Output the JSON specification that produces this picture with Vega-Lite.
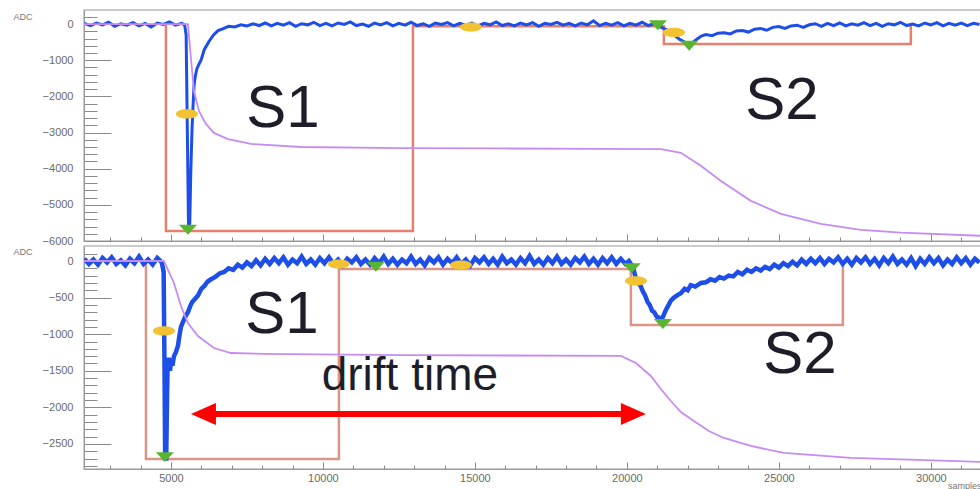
{
"$schema":"https://vega.github.io/schema/vega-lite/v6.json",
"padding":{"top":9,"left":0,"right":0,"bottom":0},
"bounds":"flush",
"spacing":5,
"config":{"view":{"stroke":"#bbbbbb","strokeWidth":1.5},"font":"Liberation Sans","axis":{"grid":false,"labelFont":"Liberation Sans","labelFontSize":11,"labelColor":"#6a6a6a","domainColor":"#9a9a9a","tickColor":"#8a8a8a","labelFlush":false,"labelOverlap":false,"titleFont":"Liberation Sans","titleFontWeight":"normal","titleColor":"#777777"}},
"datasets":{
"tw":[{"x":2150,"y":20},{"x":2350,"y":-40},{"x":2550,"y":30},{"x":2750,"y":-20},{"x":2950,"y":50},{"x":3150,"y":-60},{"x":3350,"y":10},{"x":3550,"y":-30},{"x":3750,"y":40},{"x":3950,"y":-50},{"x":4150,"y":20},{"x":4350,"y":-80},{"x":4550,"y":30},{"x":4750,"y":-10},{"x":4950,"y":60},{"x":5150,"y":-30},{"x":5350,"y":20},{"x":5450,"y":-20},{"x":5500,"y":-300},{"x":5540,"y":-3000},{"x":5580,"y":-5700},{"x":5620,"y":-5500},{"x":5650,"y":-4200},{"x":5690,"y":-3000},{"x":5720,"y":-2400},{"x":5760,"y":-1700},{"x":5800,"y":-1450},{"x":5850,"y":-1250},{"x":5900,"y":-1150},{"x":5990,"y":-1000},{"x":6100,"y":-700},{"x":6250,"y":-480},{"x":6400,"y":-300},{"x":6550,"y":-180},{"x":6700,"y":-130},{"x":6900,"y":-60},{"x":7100,"y":-80},{"x":7300,"y":-20},{"x":7500,"y":-50},{"x":7700,"y":10},{"x":7900,"y":-40},{"x":8100,"y":30},{"x":8300,"y":-50},{"x":8500,"y":20},{"x":8700,"y":-30},{"x":8900,"y":40},{"x":9100,"y":-60},{"x":9300,"y":10},{"x":9500,"y":-20},{"x":9700,"y":50},{"x":9900,"y":-40},{"x":10100,"y":20},{"x":10300,"y":-50},{"x":10500,"y":30},{"x":10700,"y":-10},{"x":10900,"y":60},{"x":11100,"y":-40},{"x":11300,"y":0},{"x":11500,"y":-60},{"x":11700,"y":30},{"x":11900,"y":-20},{"x":12100,"y":40},{"x":12300,"y":-50},{"x":12500,"y":20},{"x":12700,"y":-30},{"x":12900,"y":50},{"x":13100,"y":-40},{"x":13300,"y":10},{"x":13500,"y":-60},{"x":13700,"y":30},{"x":13900,"y":-10},{"x":14100,"y":40},{"x":14300,"y":-50},{"x":14500,"y":20},{"x":14700,"y":-30},{"x":14900,"y":30},{"x":15100,"y":-50},{"x":15300,"y":20},{"x":15500,"y":-20},{"x":15700,"y":60},{"x":15900,"y":-40},{"x":16100,"y":10},{"x":16300,"y":-50},{"x":16500,"y":30},{"x":16700,"y":-20},{"x":16900,"y":40},{"x":17100,"y":-60},{"x":17300,"y":20},{"x":17500,"y":-10},{"x":17700,"y":50},{"x":17900,"y":-30},{"x":18100,"y":20},{"x":18300,"y":-50},{"x":18500,"y":30},{"x":18700,"y":-20},{"x":18900,"y":90},{"x":19100,"y":-40},{"x":19300,"y":20},{"x":19500,"y":-30},{"x":19700,"y":40},{"x":19900,"y":-50},{"x":20100,"y":20},{"x":20300,"y":-30},{"x":20500,"y":50},{"x":20700,"y":-40},{"x":20900,"y":10},{"x":21000,"y":-40},{"x":21150,"y":-100},{"x":21300,"y":-150},{"x":21450,"y":-230},{"x":21600,"y":-330},{"x":21750,"y":-430},{"x":21900,"y":-500},{"x":22050,"y":-550},{"x":22150,"y":-520},{"x":22300,"y":-420},{"x":22450,"y":-330},{"x":22600,"y":-290},{"x":22800,"y":-320},{"x":23000,"y":-250},{"x":23200,"y":-240},{"x":23400,"y":-270},{"x":23600,"y":-190},{"x":23800,"y":-180},{"x":24000,"y":-220},{"x":24200,"y":-140},{"x":24400,"y":-120},{"x":24600,"y":-170},{"x":24800,"y":-90},{"x":25000,"y":-70},{"x":25200,"y":-120},{"x":25400,"y":-50},{"x":25600,"y":-30},{"x":25800,"y":-90},{"x":26000,"y":-20},{"x":26200,"y":10},{"x":26400,"y":-60},{"x":26600,"y":20},{"x":26800,"y":-40},{"x":27000,"y":30},{"x":27200,"y":-50},{"x":27400,"y":10},{"x":27600,"y":-30},{"x":27800,"y":40},{"x":28000,"y":-40},{"x":28200,"y":20},{"x":28400,"y":-60},{"x":28600,"y":10},{"x":28800,"y":-20},{"x":29000,"y":50},{"x":29200,"y":-40},{"x":29400,"y":0},{"x":29600,"y":-50},{"x":29800,"y":30},{"x":30000,"y":-20},{"x":30200,"y":40},{"x":30400,"y":-50},{"x":30600,"y":20},{"x":30800,"y":-30},{"x":31000,"y":30},{"x":31200,"y":-40},{"x":31400,"y":20},{"x":31600,"y":-10}],
"tp":[{"x":2140,"y":0},{"x":5559,"y":0},{"x":5658,"y":-940},{"x":5757,"y":-1850},{"x":5921,"y":-2400},{"x":6151,"y":-2760},{"x":6414,"y":-3010},{"x":6875,"y":-3180},{"x":7632,"y":-3315},{"x":9276,"y":-3400},{"x":12566,"y":-3430},{"x":15855,"y":-3440},{"x":19145,"y":-3450},{"x":21118,"y":-3460},{"x":21776,"y":-3560},{"x":22434,"y":-3920},{"x":23092,"y":-4340},{"x":24079,"y":-4890},{"x":25066,"y":-5250},{"x":26382,"y":-5525},{"x":27697,"y":-5690},{"x":29013,"y":-5770},{"x":31645,"y":-5856}],
"tr":[{"i":1,"x":4836,"y":0},{"i":2,"x":4836,"y":-5720},{"i":3,"x":12961,"y":-5720},{"i":4,"x":12961,"y":-60},{"i":5,"x":21217,"y":-60},{"i":6,"x":21217,"y":-550},{"i":7,"x":29342,"y":-550},{"i":8,"x":29342,"y":0}],
"ty":[{"x":5526,"y":-2486},{"x":14868,"y":-83},{"x":21550,"y":-230}],
"tg":[{"x":5559,"y":-5690},{"x":21020,"y":-30},{"x":22050,"y":-600}],
"tt":[{"x":8684,"y":-2348,"t":"S1"},{"x":25099,"y":-2127,"t":"S2"}],
"bw":[{"x":2150,"y":30},{"x":2300,"y":-40},{"x":2450,"y":20},{"x":2600,"y":-50},{"x":2750,"y":40},{"x":2900,"y":-20},{"x":3050,"y":50},{"x":3200,"y":-40},{"x":3350,"y":10},{"x":3500,"y":-60},{"x":3650,"y":30},{"x":3800,"y":-30},{"x":3950,"y":60},{"x":4100,"y":-40},{"x":4250,"y":20},{"x":4400,"y":-50},{"x":4550,"y":40},{"x":4700,"y":-20},{"x":4760,"y":-150},{"x":4790,"y":-1500},{"x":4810,"y":-2700},{"x":4845,"y":-2700},{"x":4870,"y":-1900},{"x":4890,"y":-1450},{"x":4930,"y":-1320},{"x":4970,"y":-1500},{"x":5010,"y":-1350},{"x":5050,"y":-1430},{"x":5100,"y":-1300},{"x":5160,"y":-1250},{"x":5230,"y":-1160},{"x":5280,"y":-1020},{"x":5330,"y":-900},{"x":5390,"y":-840},{"x":5450,"y":-780},{"x":5500,"y":-740},{"x":5560,"y":-700},{"x":5630,"y":-620},{"x":5700,"y":-560},{"x":5790,"y":-520},{"x":5890,"y":-470},{"x":6000,"y":-380},{"x":6100,"y":-340},{"x":6210,"y":-280},{"x":6320,"y":-250},{"x":6450,"y":-220},{"x":6600,"y":-170},{"x":6750,"y":-150},{"x":6900,"y":-100},{"x":7050,"y":-120},{"x":7200,"y":-50},{"x":7350,"y":-90},{"x":7500,"y":-20},{"x":7650,"y":-70},{"x":7800,"y":10},{"x":7950,"y":-60},{"x":8100,"y":30},{"x":8250,"y":-40},{"x":8400,"y":40},{"x":8550,"y":-30},{"x":8700,"y":50},{"x":8850,"y":-50},{"x":9000,"y":20},{"x":9150,"y":-30},{"x":9300,"y":60},{"x":9450,"y":-40},{"x":9600,"y":20},{"x":9750,"y":-50},{"x":9900,"y":40},{"x":10050,"y":-30},{"x":10200,"y":50},{"x":10350,"y":-40},{"x":10500,"y":20},{"x":10650,"y":-60},{"x":10800,"y":30},{"x":10950,"y":-20},{"x":11100,"y":50},{"x":11250,"y":-40},{"x":11400,"y":20},{"x":11550,"y":-50},{"x":11700,"y":40},{"x":11850,"y":-30},{"x":12000,"y":60},{"x":12150,"y":-40},{"x":12300,"y":30},{"x":12450,"y":-50},{"x":12600,"y":20},{"x":12750,"y":-30},{"x":12900,"y":60},{"x":13050,"y":-40},{"x":13200,"y":20},{"x":13350,"y":-60},{"x":13500,"y":40},{"x":13650,"y":-20},{"x":13800,"y":50},{"x":13950,"y":-50},{"x":14100,"y":30},{"x":14250,"y":-30},{"x":14400,"y":50},{"x":14550,"y":-40},{"x":14700,"y":20},{"x":14850,"y":-60},{"x":15000,"y":40},{"x":15150,"y":-20},{"x":15300,"y":50},{"x":15450,"y":-40},{"x":15600,"y":30},{"x":15750,"y":-50},{"x":15900,"y":60},{"x":16050,"y":-30},{"x":16200,"y":20},{"x":16350,"y":-50},{"x":16500,"y":40},{"x":16650,"y":-30},{"x":16800,"y":70},{"x":16950,"y":-40},{"x":17100,"y":20},{"x":17250,"y":-50},{"x":17400,"y":40},{"x":17550,"y":-30},{"x":17700,"y":60},{"x":17850,"y":-40},{"x":18000,"y":20},{"x":18150,"y":-50},{"x":18300,"y":40},{"x":18450,"y":-20},{"x":18600,"y":60},{"x":18750,"y":-40},{"x":18900,"y":30},{"x":19050,"y":-50},{"x":19200,"y":40},{"x":19350,"y":-30},{"x":19500,"y":50},{"x":19650,"y":-40},{"x":19800,"y":30},{"x":19950,"y":-40},{"x":20066,"y":0},{"x":20200,"y":-80},{"x":20296,"y":-240},{"x":20380,"y":-300},{"x":20461,"y":-350},{"x":20530,"y":-420},{"x":20600,"y":-470},{"x":20680,"y":-560},{"x":20750,"y":-600},{"x":20830,"y":-680},{"x":20900,"y":-700},{"x":20980,"y":-760},{"x":21050,"y":-770},{"x":21118,"y":-800},{"x":21180,"y":-770},{"x":21250,"y":-700},{"x":21320,"y":-640},{"x":21400,"y":-580},{"x":21447,"y":-540},{"x":21550,"y":-500},{"x":21650,"y":-470},{"x":21776,"y":-440},{"x":21900,"y":-380},{"x":22000,"y":-400},{"x":22100,"y":-330},{"x":22250,"y":-350},{"x":22434,"y":-300},{"x":22600,"y":-290},{"x":22750,"y":-250},{"x":22900,"y":-270},{"x":23050,"y":-220},{"x":23191,"y":-240},{"x":23350,"y":-200},{"x":23500,"y":-210},{"x":23650,"y":-150},{"x":23800,"y":-180},{"x":23950,"y":-120},{"x":24100,"y":-150},{"x":24250,"y":-100},{"x":24400,"y":-130},{"x":24550,"y":-80},{"x":24700,"y":-110},{"x":24850,"y":-50},{"x":25000,"y":-90},{"x":25150,"y":-30},{"x":25300,"y":-70},{"x":25450,"y":-10},{"x":25600,"y":-60},{"x":25750,"y":20},{"x":25900,"y":-40},{"x":26050,"y":30},{"x":26200,"y":-30},{"x":26350,"y":40},{"x":26500,"y":-40},{"x":26650,"y":30},{"x":26800,"y":-20},{"x":26950,"y":50},{"x":27100,"y":-40},{"x":27250,"y":30},{"x":27400,"y":-50},{"x":27550,"y":40},{"x":27700,"y":-20},{"x":27850,"y":50},{"x":28000,"y":-40},{"x":28150,"y":30},{"x":28300,"y":-60},{"x":28450,"y":40},{"x":28600,"y":-30},{"x":28750,"y":60},{"x":28900,"y":-40},{"x":29050,"y":20},{"x":29200,"y":-50},{"x":29350,"y":40},{"x":29500,"y":-70},{"x":29650,"y":30},{"x":29800,"y":-40},{"x":29950,"y":50},{"x":30100,"y":-30},{"x":30250,"y":40},{"x":30400,"y":-60},{"x":30550,"y":20},{"x":30700,"y":-40},{"x":30850,"y":50},{"x":31000,"y":-30},{"x":31150,"y":40},{"x":31300,"y":-50},{"x":31450,"y":30},{"x":31600,"y":-20}],
"bp":[{"x":2140,"y":0},{"x":4770,"y":0},{"x":5099,"y":-300},{"x":5329,"y":-615},{"x":5559,"y":-847},{"x":5888,"y":-1025},{"x":6414,"y":-1189},{"x":6974,"y":-1257},{"x":8059,"y":-1270},{"x":12566,"y":-1285},{"x":19803,"y":-1297},{"x":20296,"y":-1393},{"x":20789,"y":-1571},{"x":21118,"y":-1749},{"x":21447,"y":-1913},{"x":21776,"y":-2063},{"x":22204,"y":-2186},{"x":22697,"y":-2322},{"x":23191,"y":-2418},{"x":24079,"y":-2527},{"x":25164,"y":-2623},{"x":27368,"y":-2691},{"x":29572,"y":-2718},{"x":31645,"y":-2746}],
"br":[{"i":1,"x":4178,"y":-30},{"i":2,"x":4178,"y":-2705},{"i":3,"x":10526,"y":-2705},{"i":4,"x":10526,"y":-110},{"i":5,"x":20132,"y":-110},{"i":6,"x":20132,"y":-874},{"i":7,"x":27106,"y":-874},{"i":8,"x":27106,"y":-30}],
"by":[{"x":4770,"y":-956},{"x":10526,"y":-41},{"x":14539,"y":-55},{"x":20296,"y":-273}],
"bg":[{"x":4800,"y":-2680},{"x":11743,"y":-78},{"x":20160,"y":-100},{"x":21184,"y":-860}],
"bt":[{"x":8651,"y":-738,"t":"S1"},{"x":25691,"y":-1284,"t":"S2"}],
"bd":[{"x":12862,"y":-1571,"t":"drift time"}],
"ba":[{"x":6069,"x2":20214,"y":-2090}],
"bhl":[{"x":6069,"y":-2090}],
"bhr":[{"x":20214,"y":-2090}]
},
"vconcat":[
{"width":897,"height":231,
"layer":[
{"data":{"name":"tr"},"mark":{"type":"line","color":"#e5806f","strokeWidth":2.5,"clip":true},
"encoding":{"x":{"field":"x","type":"quantitative","scale":{"domain":[2140,31650],"nice":false,"zero":false},"axis":{"orient":"bottom","values":[5000,10000,15000,20000,25000,30000],"labels":false,"tickSize":-7,"title":null}},
"y":{"field":"y","type":"quantitative","scale":{"domain":[-6000,390],"nice":false,"zero":false},"axis":{"orient":"left","values":[0,-1000,-2000,-3000,-4000,-5000,-6000],"format":"d","tickSize":-27,"labelPadding":38,"minExtent":83,"title":"ADC","titleAngle":0,"titleX":-71,"titleY":6,"titleAlign":"left","titleBaseline":"middle","titleFontSize":9}},
"order":{"field":"i"}}},
{"data":{"name":"tw"},"mark":{"type":"line","color":"#1d4fe8","strokeWidth":3,"clip":true},
"encoding":{"x":{"field":"x","type":"quantitative","axis":{"orient":"bottom","values":[3000,4000,6000,7000,8000,9000,11000,12000,13000,14000,16000,17000,18000,19000,21000,22000,23000,24000,26000,27000,28000,29000,31000],"labels":false,"domain":false,"tickSize":-4,"title":null}},
"y":{"field":"y","type":"quantitative","axis":{"orient":"left","values":[200,-200,-400,-600,-800,-1200,-1400,-1600,-1800,-2200,-2400,-2600,-2800,-3200,-3400,-3600,-3800,-4200,-4400,-4600,-4800,-5200,-5400,-5600,-5800],"labels":false,"domain":false,"tickSize":-13,"title":null}}}},
{"data":{"name":"tp"},"mark":{"type":"line","color":"#c58cf2","strokeWidth":1.8,"clip":true},
"encoding":{"x":{"field":"x","type":"quantitative","axis":null},"y":{"field":"y","type":"quantitative","axis":null}}},
{"data":{"name":"ty"},"mark":{"type":"point","shape":"M -1 0 A 1 0.42 0 1 0 1 0 A 1 0.42 0 1 0 -1 0 Z","size":484,"filled":true,"color":"#f2c232","opacity":1},
"encoding":{"x":{"field":"x","type":"quantitative","axis":null},"y":{"field":"y","type":"quantitative","axis":null}}},
{"data":{"name":"tg"},"mark":{"type":"point","shape":"M -1 -0.55 L 1 -0.55 L 0 0.55 Z","size":324,"filled":true,"color":"#58b530","opacity":1},
"encoding":{"x":{"field":"x","type":"quantitative","axis":null},"y":{"field":"y","type":"quantitative","axis":null}}},
{"data":{"name":"tt"},"mark":{"type":"text","fontSize":60,"font":"Liberation Sans","color":"#1e1e2a","align":"center","baseline":"middle"},
"encoding":{"x":{"field":"x","type":"quantitative","axis":null},"y":{"field":"y","type":"quantitative","axis":null},"text":{"field":"t"}}}
],
"resolve":{"axis":{"x":"independent","y":"independent"}}
},
{"width":897,"height":223,
"layer":[
{"data":{"name":"br"},"mark":{"type":"line","color":"#da9587","strokeWidth":2.5,"clip":true},
"encoding":{"x":{"field":"x","type":"quantitative","scale":{"domain":[2140,31650],"nice":false,"zero":false},"axis":{"orient":"bottom","values":[5000,10000,15000,20000,25000,30000],"format":"d","tickSize":-7,"labelPadding":10,"title":"samples","titleAnchor":"end","titleFontSize":9,"titlePadding":-2}},
"y":{"field":"y","type":"quantitative","scale":{"domain":[-2842,205],"nice":false,"zero":false},"axis":{"orient":"left","values":[0,-500,-1000,-1500,-2000,-2500],"format":"d","tickSize":-27,"labelPadding":38,"minExtent":83,"title":"ADC","titleAngle":0,"titleX":-71,"titleY":5,"titleAlign":"left","titleBaseline":"middle","titleFontSize":9}},
"order":{"field":"i"}}},
{"data":{"name":"bw"},"mark":{"type":"line","color":"#1d4fe8","strokeWidth":4.5,"clip":true},
"encoding":{"x":{"field":"x","type":"quantitative","axis":{"orient":"bottom","values":[3000,4000,6000,7000,8000,9000,11000,12000,13000,14000,16000,17000,18000,19000,21000,22000,23000,24000,26000,27000,28000,29000,31000],"labels":false,"domain":false,"tickSize":-4,"title":null}},
"y":{"field":"y","type":"quantitative","axis":{"orient":"left","values":[100,-100,-200,-300,-400,-600,-700,-800,-900,-1100,-1200,-1300,-1400,-1600,-1700,-1800,-1900,-2100,-2200,-2300,-2400,-2600,-2700,-2800],"labels":false,"domain":false,"tickSize":-13,"title":null}}}},
{"data":{"name":"bp"},"mark":{"type":"line","color":"#c58cf2","strokeWidth":1.8,"clip":true},
"encoding":{"x":{"field":"x","type":"quantitative","axis":null},"y":{"field":"y","type":"quantitative","axis":null}}},
{"data":{"name":"by"},"mark":{"type":"point","shape":"M -1 0 A 1 0.42 0 1 0 1 0 A 1 0.42 0 1 0 -1 0 Z","size":484,"filled":true,"color":"#f2c232","opacity":1},
"encoding":{"x":{"field":"x","type":"quantitative","axis":null},"y":{"field":"y","type":"quantitative","axis":null}}},
{"data":{"name":"bg"},"mark":{"type":"point","shape":"M -1 -0.55 L 1 -0.55 L 0 0.55 Z","size":324,"filled":true,"color":"#58b530","opacity":1},
"encoding":{"x":{"field":"x","type":"quantitative","axis":null},"y":{"field":"y","type":"quantitative","axis":null}}},
{"data":{"name":"bt"},"mark":{"type":"text","fontSize":60,"font":"Liberation Sans","color":"#1e1e2a","align":"center","baseline":"middle"},
"encoding":{"x":{"field":"x","type":"quantitative","axis":null},"y":{"field":"y","type":"quantitative","axis":null},"text":{"field":"t"}}},
{"data":{"name":"bd"},"mark":{"type":"text","fontSize":46,"font":"Liberation Sans","color":"#1e1e2a","align":"center","baseline":"middle"},
"encoding":{"x":{"field":"x","type":"quantitative","axis":null},"y":{"field":"y","type":"quantitative","axis":null},"text":{"field":"t"}}},
{"data":{"name":"ba"},"mark":{"type":"rule","color":"#ff0000","strokeWidth":6},
"encoding":{"x":{"field":"x","type":"quantitative","axis":null},"x2":{"field":"x2"},"y":{"field":"y","type":"quantitative","axis":null}}},
{"data":{"name":"bhl"},"mark":{"type":"point","shape":"M -1 0 L 1 -0.88 L 1 0.88 Z","size":625,"filled":true,"color":"#ff0000","opacity":1},
"encoding":{"x":{"field":"x","type":"quantitative","axis":null},"y":{"field":"y","type":"quantitative","axis":null}}},
{"data":{"name":"bhr"},"mark":{"type":"point","shape":"M 1 0 L -1 -0.88 L -1 0.88 Z","size":625,"filled":true,"color":"#ff0000","opacity":1},
"encoding":{"x":{"field":"x","type":"quantitative","axis":null},"y":{"field":"y","type":"quantitative","axis":null}}}
],
"resolve":{"axis":{"x":"independent","y":"independent"}}
}
]
}
